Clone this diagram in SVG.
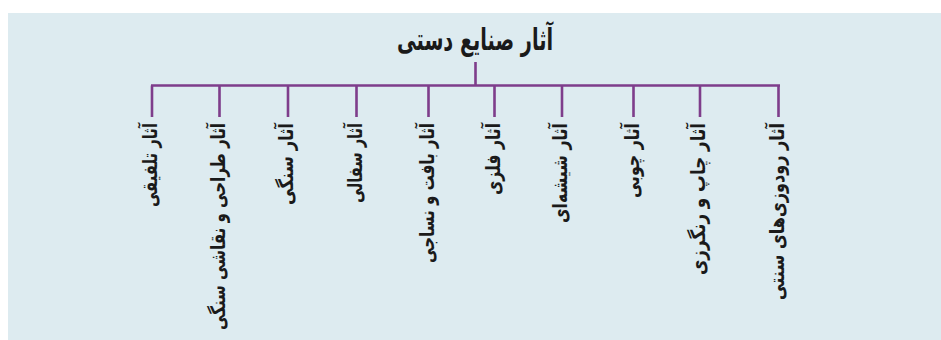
<svg xmlns="http://www.w3.org/2000/svg" width="941" height="340" viewBox="0 0 941 340">
<style>
.bg{fill:#ddebf0}
.ln{stroke:#7e3d8b;stroke-width:2.6;fill:none;stroke-linecap:butt}
.t{font-family:"DejaVu Sans",sans-serif;font-weight:bold;fill:#1a1a1a;direction:rtl}
.title{font-size:30px;text-anchor:middle}
.item{font-size:20px;text-anchor:start}
</style>
<rect class="bg" x="8" y="13" width="933" height="327"/>
<g id="root"><text class="t title" x="475" y="50" textLength="156" lengthAdjust="spacingAndGlyphs">آثار صنایع دستی</text></g>
<g id="connectors">
<path class="ln" d="M475.5,62V85.5M151,85.5H780M152,85.5V117M219.5,85.5V117M288,85.5V117M356.5,85.5V117M428.5,85.5V117M494.5,85.5V117M562,85.5V117M633.5,85.5V117M700,85.5V117M778.5,85.5V117"/>
</g>
<g id="n1" transform="translate(152,123) rotate(-90)"><text class="t item" x="0" y="5" textLength="84" lengthAdjust="spacingAndGlyphs">آثار تلفیقی</text></g>
<g id="n2" transform="translate(219.5,123) rotate(-90)"><text class="t item" x="0" y="5" textLength="207" lengthAdjust="spacingAndGlyphs">آثار طراحی و نقاشی سنگی</text></g>
<g id="n3" transform="translate(288,123) rotate(-90)"><text class="t item" x="0" y="5" textLength="82" lengthAdjust="spacingAndGlyphs">آثار سنگی</text></g>
<g id="n4" transform="translate(356.5,123) rotate(-90)"><text class="t item" x="0" y="5" textLength="80" lengthAdjust="spacingAndGlyphs">آثار سفالی</text></g>
<g id="n5" transform="translate(428.5,123) rotate(-90)"><text class="t item" x="0" y="5" textLength="140" lengthAdjust="spacingAndGlyphs">آثار بافت و نساجی</text></g>
<g id="n6" transform="translate(494.5,123) rotate(-90)"><text class="t item" x="0" y="5" textLength="72" lengthAdjust="spacingAndGlyphs">آثار فلزی</text></g>
<g id="n7" transform="translate(562,123) rotate(-90)"><text class="t item" x="0" y="5" textLength="100" lengthAdjust="spacingAndGlyphs">آثار شیشه‌ای</text></g>
<g id="n8" transform="translate(633.5,123) rotate(-90)"><text class="t item" x="0" y="5" textLength="75" lengthAdjust="spacingAndGlyphs">آثار چوبی</text></g>
<g id="n9" transform="translate(700,123) rotate(-90)"><text class="t item" x="0" y="5" textLength="152" lengthAdjust="spacingAndGlyphs">آثار چاپ و رنگرزی</text></g>
<g id="n10" transform="translate(778.5,123) rotate(-90)"><text class="t item" x="0" y="5" textLength="177" lengthAdjust="spacingAndGlyphs">آثار رودوزی‌های سنتی</text></g>
</svg>
